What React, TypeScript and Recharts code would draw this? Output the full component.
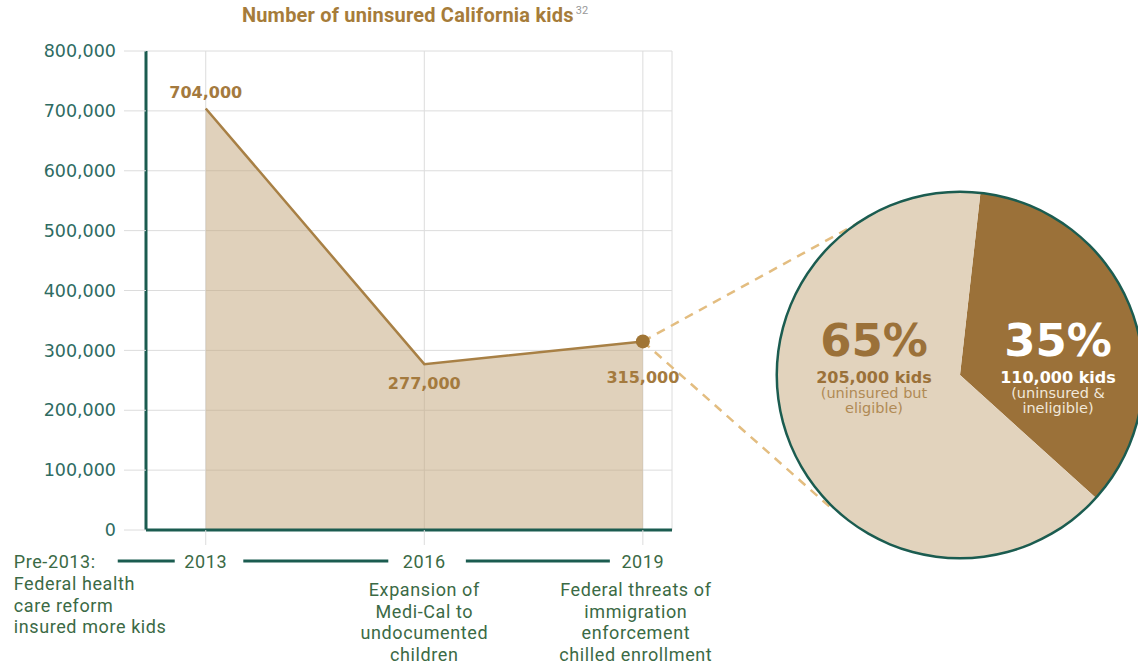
import { AreaChart, Area, XAxis, YAxis, CartesianGrid, ReferenceLine, LabelList, PieChart, Pie, Cell } from 'recharts';

// uninsured CA kids by year
const years = [2013, 2016, 2019];
const uninsured = [704000, 277000, 315000];
const yTicks = [0, 100000, 200000, 300000, 400000, 500000, 600000, 700000, 800000];

const eventLines: string[][] = [
    ['Federal health', 'care reform', 'insured more kids'],
    ['Expansion of', 'Medi-Cal to', 'undocumented', 'children'],
    ['Federal threats of', 'immigration', 'enforcement', 'chilled enrollment'],
];

// 2019 breakdown
const pieNames = ['uninsured & ineligible', 'uninsured but eligible'];
const pieKids = [110000, 205000];
const piePct = ['35%', '65%'];
const pieNotes: string[][] = [['(uninsured &', 'ineligible)'], ['(uninsured but', 'eligible)']];

// dashed "zoom" lines from the 2019 point towards the circle
const zoomEnds = [
    { x: 2022.2, y: 529000 },
    { x: 2021.6, y: 35000 },
];

const TEAL = '#1b5c50';
const BROWN = '#a47a3e';
const DARK = '#9b7139';
const LIGHT = '#e2d3bd';
const TAN_FONT = 'DejaVu Sans, sans-serif';

const data = years.map((y, i) => ({ year: y, kids: uninsured[i] }));
const pieData = pieNames.map((n, i) => ({ name: n, value: pieKids[i] }));

const fmt = (v: number) => v.toLocaleString('en-US');

// timeline segment to the left of each year label
const segLeft = [88, 181, 177];
const segRight = [31, 36, 33];

const XTick = (props: any) => {
    const { x, y, payload, index } = props;
    const lines = eventLines[index] || [];
    const f = { fontFamily: 'Roboto, sans-serif', fontSize: 18, letterSpacing: 0.6, fill: '#3b6a45' };
    const segY = y + 16;
    const seg = <line x1={x - segLeft[index]} x2={x - segRight[index]} y1={segY} y2={segY} stroke={TEAL} strokeWidth={3} />;
    if (index === 0) {
        return (
            <g>
                <text x={x - 192} y={y + 23} {...f}>Pre-2013:</text>
                {seg}
                <text x={x} y={y + 23} textAnchor="middle" {...f}>{payload.value}</text>
                {lines.map((l, i) => (
                    <text key={i} x={x - 192} y={y + 45 + i * 21.5} {...f}>{l}</text>
                ))}
            </g>
        );
    }
    const cx = index === 2 ? x - 7 : x;
    return (
        <g>
            {seg}
            <text x={x} y={y + 23} textAnchor="middle" {...f}>{payload.value}</text>
            {lines.map((l, i) => (
                <text key={i} x={cx} y={y + 51 + i * 21.5} textAnchor="middle" {...f}>{l}</text>
            ))}
        </g>
    );
};

const PointLabel = (props: any) => {
    const { x, y, value, index } = props;
    const dy = index === 0 ? -10 : index === 1 ? 25 : 42;
    return (
        <text x={x} y={y + dy} textAnchor="middle" fontFamily={TAN_FONT} fontWeight="bold" fontSize={16} fill={BROWN}>
            {fmt(value)}
        </text>
    );
};

const PieLabel = (props: any) => {
    const { cx, cy, index } = props;
    const dark = index === 0;
    const x = dark ? cx + 98 : cx - 86;
    const main = dark ? '#ffffff' : DARK;
    const sub = dark ? '#f1e8da' : '#b08a55';
    return (
        <g fontFamily={TAN_FONT} textAnchor="middle">
            <text x={x} y={cy - 19} fontSize={45} fontWeight="bold" fill={main}>{piePct[index]}</text>
            <text x={x} y={cy + 8} fontSize={16} fontWeight="bold" fill={main}>{fmt(pieKids[index])} kids</text>
            {pieNotes[index].map((l, i) => (
                <text key={i} x={x} y={cy + 23 + i * 15} fontSize={14.5} fill={sub}>{l}</text>
            ))}
        </g>
    );
};

export default function App() {
    return (
        <div style={{ position: 'absolute', left: 0, top: 0, width: 1138, height: 667, background: '#fff', overflow: 'hidden' }}>
            <div style={{ position: 'absolute', left: 0, top: 3, width: 830, textAlign: 'center', fontFamily: 'Roboto, sans-serif', fontWeight: 700, fontSize: 20, letterSpacing: 0.2, color: '#a67c3a' }}>
                Number of uninsured California kids
                <sup style={{ fontWeight: 400, fontSize: 11, color: '#999', marginLeft: 2, letterSpacing: 0 }}>32</sup>
            </div>
            <div style={{ position: 'absolute', left: 0, top: 0 }}>
                <AreaChart width={1138} height={667} data={data} margin={{ top: 51, right: 466, bottom: 107, left: 86 }}>
                    <CartesianGrid stroke="#dcdcdc" />
                    <XAxis
                        dataKey="year"
                        type="number"
                        domain={[2012.18, 2019.4]}
                        ticks={years}
                        height={30}
                        tickSize={15}
                        tickMargin={0}
                        tickLine={{ stroke: '#dcdcdc' }}
                        axisLine={{ stroke: TEAL, strokeWidth: 3 }}
                        tick={<XTick />}
                        interval={0}
                    />
                    <YAxis
                        domain={[0, 800000]}
                        ticks={yTicks}
                        width={60}
                        tickSize={22}
                        tickMargin={8}
                        tickLine={{ stroke: '#dcdcdc' }}
                        axisLine={{ stroke: TEAL, strokeWidth: 3 }}
                        tickFormatter={fmt}
                        tick={{ fontFamily: TAN_FONT, fontSize: 17.5, fill: '#2e6b62' }}
                        interval={0}
                    />
                    {zoomEnds.map((e, i) => (
                        <ReferenceLine
                            key={i}
                            segment={[{ x: years[2], y: uninsured[2] }, e]}
                            ifOverflow="visible"
                            stroke="#e3bd80"
                            strokeWidth={2.5}
                            strokeDasharray="9 7"
                        />
                    ))}
                    <Area
                        type="linear"
                        dataKey="kids"
                        stroke="#a88045"
                        strokeWidth={2.5}
                        fill="#c1a377"
                        fillOpacity={0.5}
                        isAnimationActive={false}
                        dot={(p: any) =>
                            p.index === 2 ? (
                                <circle key={p.index} cx={p.cx} cy={p.cy} r={7} fill="#a07535" />
                            ) : (
                                <g key={p.index} />
                            )
                        }
                        activeDot={false}
                    >
                        <LabelList dataKey="kids" content={<PointLabel />} />
                    </Area>
                </AreaChart>
            </div>
            <div style={{ position: 'absolute', left: 0, top: 0, pointerEvents: 'none' }}>
                <PieChart width={1138} height={667} margin={{ top: 0, right: 0, bottom: 0, left: 0 }}>
                    <Pie
                        data={pieData}
                        dataKey="value"
                        cx={960}
                        cy={375}
                        outerRadius={183}
                        startAngle={83.6}
                        endAngle={-276.4}
                        stroke="none"
                        label={<PieLabel />}
                        labelLine={false}
                        isAnimationActive={false}
                    >
                        <Cell fill={DARK} />
                        <Cell fill={LIGHT} />
                    </Pie>
                    <Pie
                        data={[{ value: 1 }]}
                        dataKey="value"
                        cx={960}
                        cy={375}
                        innerRadius={182}
                        outerRadius={184.5}
                        fill={TEAL}
                        stroke="none"
                        isAnimationActive={false}
                    />
                </PieChart>
            </div>
        </div>
    );
}
